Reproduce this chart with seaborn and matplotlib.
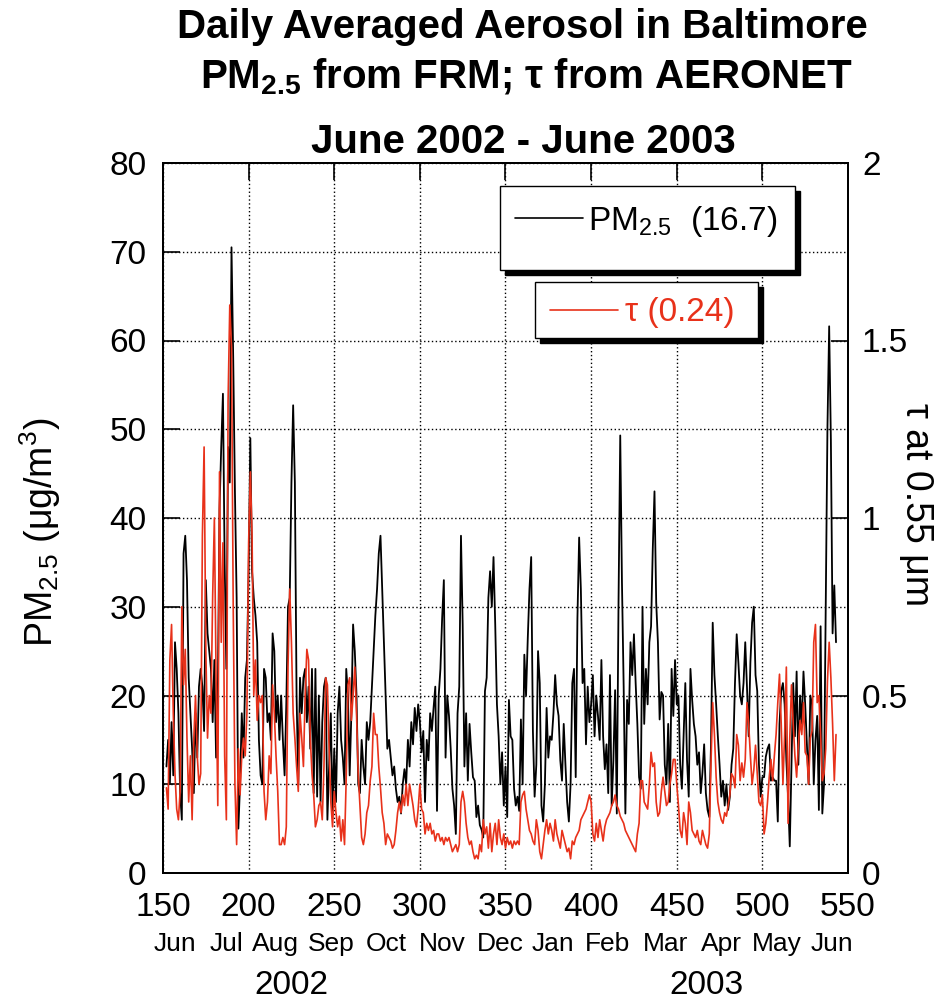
import numpy as np
import pandas as pd
import matplotlib
matplotlib.use("Agg")
import matplotlib.pyplot as plt
import matplotlib.transforms as mtransforms
from matplotlib.patches import Rectangle
from matplotlib.lines import Line2D
import seaborn as sns

# ---------------- data ----------------
first_day = 152  # day-of-year of first value (1 June 2002)

pm25 = [
    12, 15, 10, 17, 11, 26, 23, 18, 9, 6,            # 152-161
    36, 38, 33, 22, 18, 14, 9, 18, 13, 21,           # 162-171
    23, 21, 16, 33, 27, 25, 23, 17, 24, 13,          # 172-181
    20, 41, 48, 54, 35, 23, 48, 44, 70.5, 58,        # 182-191
    43, 31, 5, 10, 18, 13, 22, 24, 34, 49,           # 192-201
    34, 31, 29, 26, 15, 11, 10, 23, 22, 17,          # 202-211
    18, 15, 27, 25, 17, 20, 15, 20, 15, 11,          # 212-221
    19, 30, 31, 44, 52.7, 44, 20, 10, 22, 18,        # 222-231
    22, 23, 17, 21, 14, 23, 9, 23, 8.6, 20,          # 232-241
    8, 17, 21, 22, 6, 12, 18, 7, 14, 8,              # 242-251
    18, 21, 15, 13, 10, 23, 20, 11, 18, 28,          # 252-261
    25, 20, 10, 9, 15, 12, 10, 17, 15, 17,           # 262-271
    21, 25, 29, 32, 36, 38, 32, 26, 20, 14,          # 272-281
    15, 13, 11, 12, 9.5, 8, 8.6, 6.7, 10, 11.7,      # 282-291
    10, 15, 12, 17, 14.5, 18.6, 16, 19, 17, 13.6,    # 292-301
    16, 8, 15, 12.7, 18, 16, 18.6, 21, 7, 20,        # 302-311
    23, 28.7, 33, 13, 20, 17.7, 14, 9.5, 7.6, 4.4,   # 312-321
    18, 21, 38, 28, 12, 18, 10.4, 16.8, 13.6, 10.8,  # 322-331
    10.4, 6.3, 7.6, 5.4, 4.9, 4, 20.5, 22, 31, 34,   # 332-341
    30, 35.6, 28, 19, 15.4, 10, 13.6, 7.6, 12, 6.3,  # 342-351
    19.5, 15.4, 15, 9.5, 7.6, 8.6, 7, 17.3, 10, 24.6,   # 352-361
    20, 26.4, 32, 35.6, 16, 8.6, 12.2, 25, 21.4, 7.6,   # 362-371
    5.8, 10, 18.6, 13, 15.4, 15, 18, 22.3, 19, 17.7,    # 372-381
    12.7, 10.4, 16.8, 12.2, 8, 5.8, 10, 21.4, 23, 10.8, # 382-391
    28.7, 37.8, 32, 21.4, 23, 14.5, 21, 17, 19, 22.3,   # 392-401
    15.4, 20, 17.7, 15, 24, 15.4, 11.7, 14.5, 9, 22.3,  # 402-411
    7.6, 12.7, 20.6, 6.7, 30.5, 49.3, 32.8, 21, 6.7, 19.5,  # 412-421
    16.8, 26, 22.3, 26.9, 21.4, 16.8, 10.8, 9.5, 30, 16.8,  # 422-431
    23, 19, 26, 27.8, 36.5, 43, 30.5, 26, 17.3, 20.4,   # 432-441
    20, 12.2, 10, 16.8, 8, 23, 17.7, 24, 19, 20,        # 442-451
    12.2, 9.5, 15.4, 21.4, 12.7, 8.6, 23, 19.5, 16.8, 15.4,  # 452-461
    12.2, 13.6, 9, 11.3, 14.5, 9, 7.1, 6.3, 14.5, 28.2,      # 462-471
    22.3, 19, 15.4, 12.2, 8.6, 10.4, 7.6, 10, 7.1, 8.6,      # 472-481
    12.2, 14, 21.4, 26.9, 23.7, 20, 19, 21.4, 26, 21,        # 482-491
    15.4, 23.7, 28.2, 30, 22.3, 20.5, 12.2, 8.6, 10.8, 10.8, # 492-501
    13.1, 14, 14.5, 10.4, 10.8, 10.4, 10.4, 5.8, 16.8, 20.5, # 502-511
    21.4, 19, 12.7, 8.6, 3, 12.2, 21.4, 15.4, 22.7, 12.2,    # 512-521
    20, 16.8, 22.7, 19, 14.5, 10, 20, 19, 10, 15,            # 522-531
    17.7, 7.1, 27.8, 6.7, 10, 29.6, 50.2, 61.6, 48.8, 27,    # 532-541
    32.4, 26,                                                # 542-543
]

tau = [
    0.24, 0.18, 0.60, 0.70, 0.45, 0.28, 0.18, 0.15, 0.23, 0.75,   # 152-161
    0.53, 0.63, 0.38, 0.20, 0.33, 0.15, 0.38, 0.50, 0.33, 0.25,   # 162-171
    0.28, 0.95, 1.20, 0.63, 0.38, 0.50, 0.45, 0.78, 1.00, 0.55,   # 172-181
    0.19, 1.13, 0.65, 0.93, 0.33, 0.15, 1.33, 1.60, 1.48, 0.75,   # 182-191
    0.25, 0.08, 0.35, 0.22, 0.33, 0.38, 0.33, 0.45, 0.93, 1.13,   # 192-201
    0.95, 0.50, 0.60, 0.43, 0.50, 0.48, 0.50, 0.23, 0.15, 0.20,   # 202-211
    0.33, 0.28, 0.53, 0.45, 0.33, 0.23, 0.08, 0.08, 0.10, 0.08,   # 212-221
    0.13, 0.58, 0.80, 0.65, 0.45, 0.38, 0.30, 0.23, 0.45, 0.38,   # 222-231
    0.30, 0.50, 0.63, 0.60, 0.38, 0.28, 0.22, 0.13, 0.15, 0.19,   # 232-241
    0.20, 0.15, 0.30, 0.55, 0.53, 0.35, 0.20, 0.13, 0.23, 0.17,   # 242-251
    0.13, 0.16, 0.09, 0.15, 0.08, 0.27, 0.53, 0.55, 0.43, 0.50,   # 252-261
    0.58, 0.45, 0.28, 0.19, 0.10, 0.08, 0.11, 0.17, 0.19, 0.26,   # 262-271
    0.30, 0.45, 0.39, 0.39, 0.30, 0.24, 0.17, 0.14, 0.08, 0.11,   # 272-281
    0.10, 0.09, 0.07, 0.08, 0.12, 0.17, 0.20, 0.17, 0.22, 0.19,   # 282-291
    0.25, 0.19, 0.25, 0.22, 0.19, 0.15, 0.13, 0.18, 0.25, 0.18,   # 292-301
    0.17, 0.11, 0.14, 0.12, 0.14, 0.11, 0.12, 0.09, 0.11, 0.11,   # 302-311
    0.09, 0.10, 0.08, 0.10, 0.09, 0.10, 0.08, 0.06, 0.07, 0.08,   # 312-321
    0.06, 0.08, 0.20, 0.23, 0.20, 0.14, 0.10, 0.08, 0.09, 0.06,   # 322-331
    0.04, 0.05, 0.04, 0.08, 0.06, 0.15, 0.11, 0.13, 0.07, 0.14,   # 332-341
    0.06, 0.11, 0.14, 0.08, 0.15, 0.10, 0.08, 0.11, 0.07, 0.10,   # 342-351
    0.08, 0.09, 0.07, 0.09, 0.08, 0.09, 0.08, 0.20, 0.22, 0.23,   # 352-361
    0.18, 0.15, 0.12, 0.11, 0.09, 0.08, 0.15, 0.12, 0.06, 0.04,   # 362-371
    0.08, 0.12, 0.15, 0.11, 0.14, 0.12, 0.09, 0.15, 0.11, 0.09,   # 372-381
    0.07, 0.12, 0.10, 0.08, 0.06, 0.07, 0.04, 0.09, 0.08, 0.10,   # 382-391
    0.11, 0.12, 0.15, 0.16, 0.17, 0.18, 0.20, 0.22, 0.20, 0.11,   # 392-401
    0.09, 0.14, 0.10, 0.15, 0.12, 0.09, 0.13, 0.15, 0.16, 0.17,   # 402-411
    0.19, 0.20, 0.22, 0.19, 0.18, 0.16, 0.15, 0.14, 0.12, 0.11,   # 412-421
    0.10, 0.09, 0.08, 0.07, 0.06, 0.11, 0.14, 0.26, 0.26, 0.20,   # 422-431
    0.19, 0.18, 0.25, 0.34, 0.30, 0.31, 0.20, 0.16, 0.17, 0.23,   # 432-441
    0.27, 0.23, 0.19, 0.20, 0.25, 0.28, 0.32, 0.32, 0.25, 0.19,   # 442-451
    0.12, 0.10, 0.17, 0.14, 0.08, 0.20, 0.17, 0.12, 0.11, 0.10,   # 452-461
    0.12, 0.09, 0.08, 0.12, 0.10, 0.08, 0.07, 0.11, 0.31, 0.48,   # 462-471
    0.39, 0.27, 0.20, 0.17, 0.15, 0.14, 0.17, 0.16, 0.19, 0.22,   # 472-481
    0.28, 0.27, 0.24, 0.39, 0.36, 0.26, 0.31, 0.27, 0.32, 0.48,   # 482-491
    0.42, 0.33, 0.25, 0.29, 0.36, 0.28, 0.20, 0.19, 0.22, 0.11,   # 492-501
    0.14, 0.20, 0.27, 0.32, 0.26, 0.33, 0.39, 0.48, 0.56, 0.42,   # 502-511
    0.25, 0.39, 0.58, 0.14, 0.38, 0.53, 0.42, 0.33, 0.27, 0.36,   # 512-521
    0.43, 0.39, 0.48, 0.34, 0.33, 0.25, 0.38, 0.40, 0.65, 0.70,   # 522-531
    0.48, 0.50, 0.39, 0.26, 0.28, 0.35, 0.54, 0.65, 0.55, 0.42,   # 532-541
    0.26, 0.39,                                                   # 542-543
]

x_ticks = [150, 200, 250, 300, 350, 400, 450, 500, 550]
pm_ticks = [0, 10, 20, 30, 40, 50, 60, 70, 80]
tau_ticks = [0, 0.5, 1, 1.5, 2]
tau_tick_labels = ["0", "0.5", "1", "1.5", "2"]
month_labels = ["Jun", "Jul", "Aug", "Sep", "Oct", "Nov", "Dec",
                "Jan", "Feb", "Mar", "Apr", "May", "Jun"]
year_labels = ["2002", "2003"]
pm_mean_label = "16.7"
tau_mean_label = "0.24"

# ---------------- layout constants ----------------
month_label_x = [157, 187, 215.5, 248, 280.5, 313, 347, 377.5, 409.5, 443.5, 476, 508.5, 540.5]
year_label_x = [224.7, 467.6]
RED = "#e8311a"

sns.set_theme(style="white")
plt.rcParams["font.family"] = ["Liberation Sans", "DejaVu Sans"]
plt.rcParams["mathtext.default"] = "regular"
plt.rcParams["text.color"] = "black"
plt.rcParams["axes.labelcolor"] = "black"

days = np.arange(first_day, first_day + len(pm25))
df = pd.DataFrame({"day": days, "pm25": pm25, "tau": tau})

fig = plt.figure(figsize=(9.37, 10.01), dpi=100)
fig.patch.set_facecolor("white")
ax = fig.add_axes([163 / 937, 1 - 873 / 1001, 685 / 937, 710 / 1001])
ax.set_facecolor("white")

sns.lineplot(data=df, x="day", y="pm25", ax=ax, color="black", lw=1.3)
ax2 = ax.twinx()
sns.lineplot(data=df, x="day", y="tau", ax=ax2, color=RED, lw=1.2)

ax.set_xlim(150, 550)
ax.set_ylim(0, 80)
ax2.set_ylim(0, 2)
ax.set_xticks(x_ticks)
ax.set_yticks(pm_ticks)
ax2.set_yticks(tau_ticks)
ax2.set_yticklabels(tau_tick_labels)
ax.set_xlabel("")
ax.set_ylabel("")
ax2.set_ylabel("")

ax.grid(True, color="black", linestyle=(0, (1, 1.8)), lw=1.0)
ax.tick_params(axis="both", direction="in", length=12, width=1.2,
               labelsize=24, colors="black", top=True)
ax.tick_params(axis="x", pad=14)
ax.tick_params(axis="y", pad=12)
ax2.tick_params(axis="y", direction="in", length=12, width=1.2,
                labelsize=24, colors="black", pad=10)
for a in (ax, ax2):
    for s in a.spines.values():
        s.set_color("black")
        s.set_linewidth(1.4)

# month and year labels under the axis
trans = mtransforms.blended_transform_factory(ax.transData, ax.transAxes)
for xm, m in zip(month_label_x, month_labels):
    ax.text(xm, -0.1000, m, transform=trans, ha="center", va="center",
            fontsize=19, color="black")
for xy, y in zip(year_label_x, year_labels):
    ax.text(xy, -0.1590, y, transform=trans, ha="center", va="center",
            fontsize=24, color="black")

# titles
fig.text(0.558, 1 - 38 / 1001, "Daily Averaged Aerosol in Baltimore",
         ha="center", va="baseline", fontsize=29, fontweight="bold")
fig.text(0.562, 1 - 88 / 1001, "PM$_{2.5}$ from FRM; \u03c4 from AERONET",
         ha="center", va="baseline", fontsize=29, fontweight="bold")
fig.text(0.559, 1 - 153 / 1001, "June 2002 - June 2003",
         ha="center", va="baseline", fontsize=29, fontweight="bold")

# axis labels
fig.text(40 / 937, 1 - 532 / 1001, "PM$_{2.5}$ (\u03bcg/m$^{3}$)", rotation=90,
         ha="center", va="center", fontsize=27)
fig.text(916 / 937, 1 - 505 / 1001, "\u03c4 at 0.55 \u03bcm", rotation=270,
         ha="center", va="center", fontsize=27)

# legend boxes with drop shadow
def legend_box(a, x0, y0, x1, y1, lx0, lx1, ly, tx, ty, text, color):
    dx, dy = 5 / 685, 5 / 710
    a.add_patch(Rectangle((x0 + dx, y0 - dy), x1 - x0, y1 - y0, transform=a.transAxes,
                          facecolor="black", edgecolor="black", zorder=20, clip_on=False))
    a.add_patch(Rectangle((x0, y0), x1 - x0, y1 - y0, transform=a.transAxes,
                          facecolor="white", edgecolor="black", lw=1.0, zorder=21,
                          clip_on=False))
    a.add_line(Line2D([lx0, lx1], [ly, ly], transform=a.transAxes, color=color,
                      lw=1.2, zorder=22))
    a.text(tx, ty, text, transform=a.transAxes, color=color, fontsize=24,
           ha="left", va="baseline", zorder=23)

legend_box(ax2, 0.492, 0.849, 0.923, 0.968, 0.514, 0.613, 0.9225, 0.620, 0.906,
           "PM$_{2.5}$  (" + pm_mean_label + ")", "black")
legend_box(ax2, 0.543, 0.754, 0.869, 0.832, 0.565, 0.664, 0.793, 0.674, 0.777,
           "\u03c4 (" + tau_mean_label + ")", RED)

fig.savefig("out.png", dpi=100, facecolor="white")
